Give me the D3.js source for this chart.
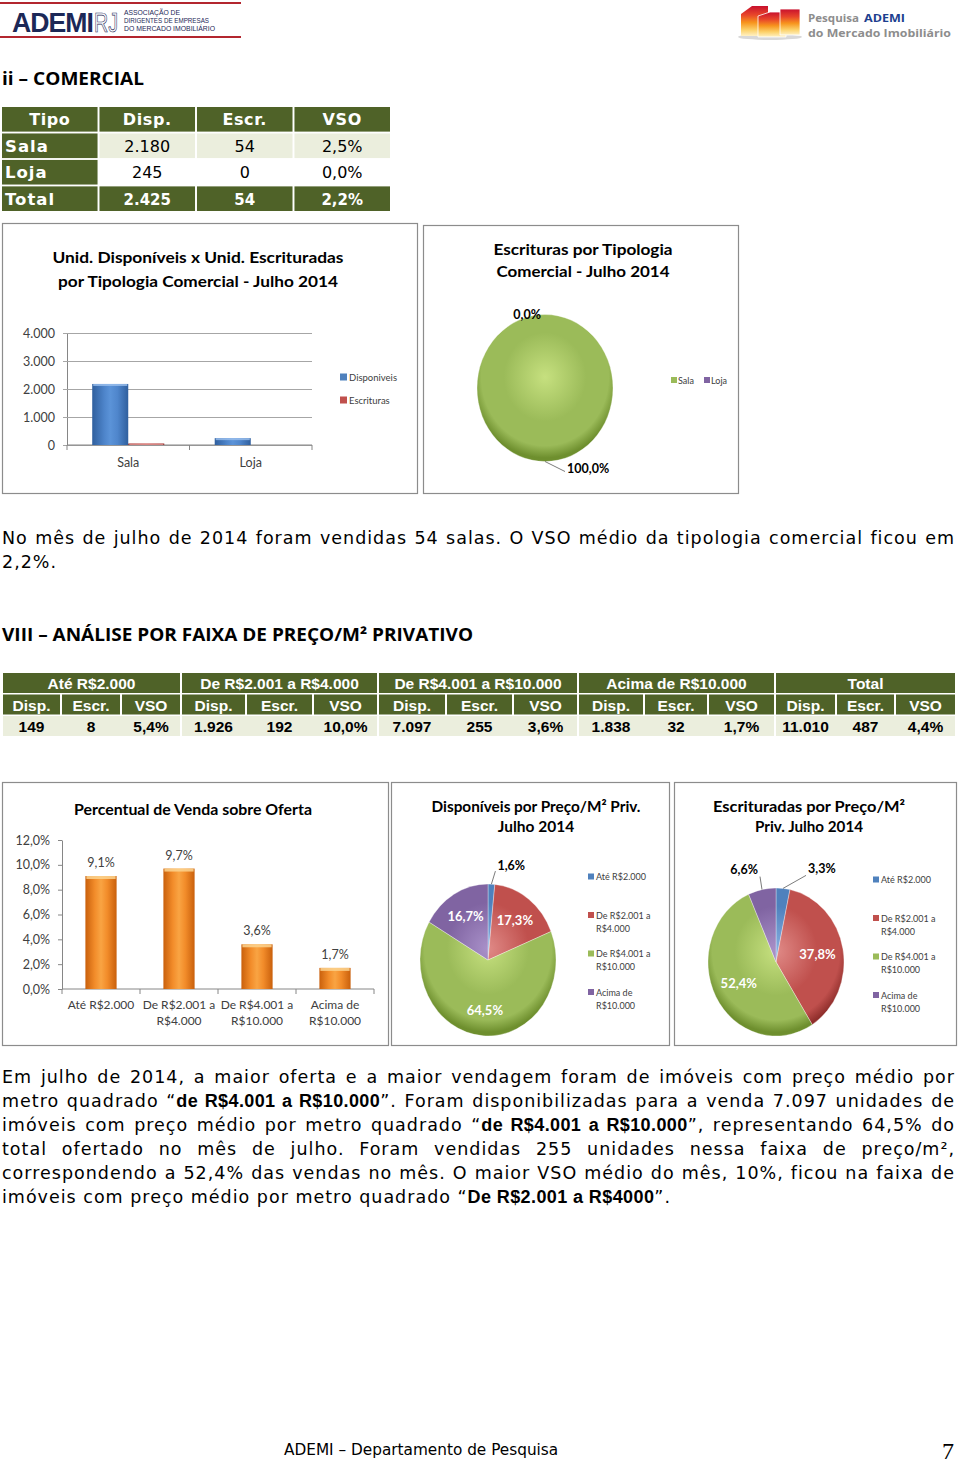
<!DOCTYPE html>
<html><head><meta charset="utf-8">
<script src="https://cdn.jsdelivr.net/npm/d3@7"></script>
<style>body{margin:0;background:#fff}svg{display:block}text{white-space:pre}</style>
</head><body>
<svg id="page" width="960" height="1464"></svg>
<script>
// ---------------- DATA ----------------
const tab1Header = ["Tipo", "Disp.", "Escr.", "VSO"];
const comTipos = ["Sala", "Loja"];
const comDisp = [2180, 245];
const comEscr = [54, 0];
const comVso = [2.5, 0.0];
const comTotal = [2425, 54, 2.2];
const yTicksUnid = [0, 1000, 2000, 3000, 4000];
const escrTipoPct = [100.0, 0.0];

const faixaNomes = ["Até R$2.000", "De R$2.001 a R$4.000", "De R$4.001 a R$10.000", "Acima de R$10.000", "Total"];
const subHeader = ["Disp.", "Escr.", "VSO"];
const faixaDisp = [149, 1926, 7097, 1838, 11010];
const faixaEscr = [8, 192, 255, 32, 487];
const faixaVso = [5.4, 10.0, 3.6, 1.7, 4.4];

const faixaEixo = [["Até R$2.000"], ["De R$2.001 a", "R$4.000"], ["De R$4.001 a", "R$10.000"], ["Acima de", "R$10.000"]];
const pctVenda = [9.1, 9.7, 3.6, 1.7];
const yTicksPct = [0, 2, 4, 6, 8, 10, 12];
const dispPct = [1.6, 17.3, 64.5, 16.7];
const escrPct = [3.3, 37.8, 52.4, 6.6];

// ---------------- STYLE / LAYOUT ----------------
const GOTHIC = "'DejaVu Sans', sans-serif";
const CAL = "Lato, 'Open Sans', sans-serif";
const ARIAL = "'Liberation Sans', Arial, sans-serif";
const OLIVE = "#4f6228";
const LIGHT = "#ebeedd";
const AXIS_TXT = "#404040";
const PIE_COLORS = ["#4f81bd", "#c0504d", "#9bbb59", "#8064a2"];
const PIE_LIGHT = ["#86aee0", "#e08a87", "#c6e07f", "#a991c9"];
const PIE_DARK = ["#2f5b94", "#8f2e2b", "#6e8f2e", "#574078"];

const loc = d3.formatLocale({decimal: ",", thousands: ".", grouping: [3], currency: ["R$", ""]});
const fInt = loc.format(",.0f");
const fPct = v => loc.format(".1f")(v) + "%";

const svg = d3.select("#page");
const defs = svg.append("defs");
svg.append("rect").attr("width", 960).attr("height", 1464).attr("fill", "#fff");

function fit(t, w) {
  const n = t.node().getComputedTextLength();
  if (Math.abs(n - w) > 1.5) t.attr("textLength", w).attr("lengthAdjust", "spacingAndGlyphs");
  return t;
}
function txt(g, x, y, s, o = {}) {
  const t = g.append("text").attr("x", x).attr("y", y).text(s)
    .attr("font-family", o.ff || CAL).attr("font-size", o.fs || 12)
    .attr("font-weight", o.fw || 400).attr("fill", o.fill || "#000")
    .attr("text-anchor", o.anchor || "start");
  if (o.ls) t.attr("letter-spacing", o.ls);
  if (o.w) fit(t, o.w);
  return t;
}
function box(x, y, w, h) {
  svg.append("rect").attr("x", x + 0.5).attr("y", y + 0.5).attr("width", w).attr("height", h)
    .attr("fill", "#fff").attr("stroke", "#8c8c8c").attr("stroke-width", 1.2);
}
function linGrad(id, stops, horiz = true) {
  const g = defs.append("linearGradient").attr("id", id)
    .attr("x1", 0).attr("y1", 0).attr("x2", horiz ? 1 : 0).attr("y2", horiz ? 0 : 1);
  stops.forEach(s => g.append("stop").attr("offset", s[0]).attr("stop-color", s[1]));
}

// ---------------- HEADER ----------------
(function header() {
  const g = svg.append("g");
  g.append("rect").attr("x", 0).attr("y", 2).attr("width", 241).attr("height", 2).attr("fill", "#b3262f");
  g.append("rect").attr("x", 0).attr("y", 36).attr("width", 241).attr("height", 2).attr("fill", "#b3262f");
  txt(g, 12, 32, "ADEMI", {ff: ARIAL, fs: 28, fw: 900, fill: "#1c2857", w: 81, ls: -1});
  txt(g, 94, 32, "RJ", {ff: ARIAL, fs: 28, fw: 400, fill: "#fff", w: 24}).attr("stroke", "#1c2857").attr("stroke-width", 0.7);
  txt(g, 124, 15, "ASSOCIAÇÃO DE", {ff: ARIAL, fs: 8, fill: "#1c2857", w: 56});
  txt(g, 124, 23, "DIRIGENTES DE EMPRESAS", {ff: ARIAL, fs: 8, fill: "#1c2857", w: 85});
  txt(g, 124, 31, "DO MERCADO IMOBILIÁRIO", {ff: ARIAL, fs: 8, fill: "#1c2857", w: 91});

  linGrad("bld", [[0, "#c8102e"], [0.3, "#e8462a"], [0.55, "#f7941d"], [0.8, "#fcd26b"], [1, "#fff1c4"]], false);
  g.append("ellipse").attr("cx", 770).attr("cy", 37).attr("rx", 32).attr("ry", 3).attr("fill", "#d8d8d8");
  g.append("path").attr("d", "M741,14 L752,6 L768,6 L768,36 L741,36 Z").attr("fill", "url(#bld)");
  g.append("path").attr("d", "M758,16 L770,12 L786,12 L786,37 L758,37 Z").attr("fill", "url(#bld)").attr("stroke", "#fff").attr("stroke-width", 0.8);
  g.append("path").attr("d", "M780,9 L800,9 L800,35 L780,35 Z").attr("fill", "url(#bld)").attr("stroke", "#fff").attr("stroke-width", 0.8);
  txt(g, 808, 21.5, "Pesquisa", {ff: "'Open Sans', sans-serif", fs: 11, fw: 700, fill: "#8d8d8d", w: 51});
  txt(g, 864, 21.5, "ADEMI", {ff: "'Open Sans', sans-serif", fs: 11, fw: 700, fill: "#1d3f8f", w: 41});
  txt(g, 808, 36.5, "do Mercado Imobiliário", {ff: "'Open Sans', sans-serif", fs: 11, fw: 700, fill: "#8d8d8d", w: 143});
})();

// ---------------- SECTION: COMERCIAL ----------------
txt(svg, 2, 85, "ii – COMERCIAL", {ff: "'Open Sans', sans-serif", fs: 17.5, fw: 700, w: 142});

(function table1() {
  const g = svg.append("g");
  const cols = d3.scaleBand().domain(d3.range(4)).range([2, 390]).paddingInner(0.02);
  const rows = d3.scaleBand().domain(["h", ...comTipos, "Total"]).range([107, 211]).paddingInner(0.07);
  const cells = [];
  rows.domain().forEach((r) => {
    cols.domain().forEach(c => {
      let s, fill, tc = "#000", bold = false;
      if (r === "h") { s = tab1Header[c]; fill = OLIVE; tc = "#fff"; bold = true; }
      else if (r === "Total") {
        s = c === 0 ? "Total" : (c === 3 ? fPct(comTotal[2]) : fInt(comTotal[c - 1]));
        fill = OLIVE; tc = "#fff"; bold = true;
      } else {
        const i = comTipos.indexOf(r);
        if (c === 0) { s = r; fill = OLIVE; tc = "#fff"; bold = true; }
        else { s = c === 1 ? fInt(comDisp[i]) : c === 2 ? fInt(comEscr[i]) : fPct(comVso[i]); fill = i === 0 ? LIGHT : "#fff"; }
      }
      cells.push({r, c, s, fill, tc, bold});
    });
  });
  g.selectAll("rect").data(cells).join("rect")
    .attr("x", d => cols(d.c)).attr("y", d => rows(d.r))
    .attr("width", cols.bandwidth()).attr("height", rows.bandwidth()).attr("fill", d => d.fill);
  cells.forEach(d => {
    const left = d.c === 0 && d.r !== "h";
    const x = left ? cols(d.c) + 3 : cols(d.c) + cols.bandwidth() / 2;
    const y = rows(d.r) + rows.bandwidth() / 2 + 6;
    let fs = 16, ls = 0;
    if (d.r === "h") { fs = 16; ls = 0.6; }
    else if (left) { fs = 16.5; ls = 1; }
    else if (d.r === "Total") { fs = 15; }
    txt(g, x, y, d.s, {ff: GOTHIC, fs, fw: d.bold ? 700 : 400, fill: d.tc, anchor: left ? "start" : "middle", ls});
  });
})();

// ---------------- CHART 1: bars Unid ----------------
(function chart1() {
  box(2, 223, 415, 270);
  const g = svg.append("g");
  txt(g, 198, 263, "Unid. Disponíveis x Unid. Escrituradas", {fs: 16, fw: 700, anchor: "middle", w: 291});
  txt(g, 198, 287, "por Tipologia Comercial - Julho 2014", {fs: 16, fw: 700, anchor: "middle", w: 280});
  const y = d3.scaleLinear().domain([0, 4000]).range([445, 333]);
  const x = d3.scaleBand().domain(comTipos).range([67, 312]);
  const series = ["Disponiveis", "Escrituras"];
  const xi = d3.scaleBand().domain(series).range([0, x.bandwidth()]).paddingOuter(0.7);
  const ax = g.append("g").attr("transform", "translate(67,0)")
    .call(d3.axisLeft(y).tickValues(yTicksUnid).tickFormat(fInt).tickSize(-245).tickSizeOuter(0).tickPadding(12));
  ax.select(".domain").attr("stroke", "#868686");
  ax.selectAll(".tick line").attr("stroke", "#a6a6a6").attr("x1", -4);
  ax.selectAll(".tick text").attr("font-family", CAL).attr("font-size", 12.5).attr("fill", AXIS_TXT);
  g.append("line").attr("x1", 67).attr("x2", 312).attr("y1", y(0)).attr("y2", y(0)).attr("stroke", "#868686");
  const bounds = comTipos.map(d => x(d)).concat([x.range()[1]]);
  g.selectAll(".bt").data(bounds).join("line").attr("x1", d => d).attr("x2", d => d)
    .attr("y1", y(0)).attr("y2", y(0) + 5).attr("stroke", "#868686");
  comTipos.forEach(d => txt(g, x(d) + x.bandwidth() / 2, 467, d, {fs: 12.5, fill: AXIS_TXT, anchor: "middle"}));

  linGrad("gBlue", [[0, "#2f5f9e"], [0.35, "#4f86cc"], [0.5, "#5b93d8"], [0.7, "#4f86cc"], [1, "#2f5f9e"]]);
  linGrad("gRed", [[0, "#8f2e2b"], [0.5, "#c9524e"], [1, "#8f2e2b"]]);
  const vals = [comDisp, comEscr];
  const fills = ["url(#gBlue)", "url(#gRed)"];
  series.forEach((s, si) => {
    g.selectAll(".b" + si).data(comTipos).join("rect")
      .attr("x", d => x(d) + xi(s)).attr("width", xi.bandwidth())
      .attr("y", (d, i) => y(vals[si][i])).attr("height", (d, i) => y(0) - y(vals[si][i]))
      .attr("fill", fills[si]);
    g.selectAll(".bh" + si).data(comTipos).join("rect")
      .attr("x", d => x(d) + xi(s) + 1).attr("width", xi.bandwidth() - 2)
      .attr("y", (d, i) => y(vals[si][i])).attr("height", (d, i) => Math.min(2, y(0) - y(vals[si][i])))
      .attr("fill", si === 0 ? "#9cc0ee" : "#e09592").attr("opacity", 0.8);
  });
  const ly = d3.scalePoint().domain(series).range([377, 400]);
  series.forEach((s, i) => {
    g.append("rect").attr("x", 340).attr("y", ly(s) - 3.5).attr("width", 7).attr("height", 7).attr("fill", PIE_COLORS[i]);
    txt(g, 349, ly(s) + 3.5, s, {fs: 9.5, fill: AXIS_TXT});
  });
})();

// ---------------- PIE helper ----------------
function drawPie(o) {
  const k = o.ry / o.rx;
  const arcs = d3.pie().sort(null).value(d => d)(o.values);
  const arc = d3.arc().innerRadius(0).outerRadius(o.rx);
  o.colorIdx.forEach((ci, i) => {
    const rg = defs.append("radialGradient").attr("id", o.id + i).attr("gradientUnits", "userSpaceOnUse")
      .attr("cx", 0).attr("cy", -o.rx * 0.15).attr("r", o.rx * 1.1);
    rg.append("stop").attr("offset", 0).attr("stop-color", PIE_LIGHT[ci]);
    rg.append("stop").attr("offset", 0.55).attr("stop-color", PIE_COLORS[ci]);
    rg.append("stop").attr("offset", 0.85).attr("stop-color", PIE_COLORS[ci]);
    rg.append("stop").attr("offset", 1).attr("stop-color", PIE_DARK[ci]);
  });
  const g = svg.append("g");
  g.append("g").attr("transform", `translate(${o.cx},${o.cy}) scale(1,${k})`)
    .selectAll("path").data(arcs.filter(d => d.value > 0)).join("path").attr("d", arc)
    .attr("fill", d => `url(#${o.id}${d.index})`).attr("stroke", "rgba(255,255,255,0.45)").attr("stroke-width", 0.7);
  arcs.forEach(d => {
    const a = (d.startAngle + d.endAngle) / 2;
    const sx = Math.sin(a), sy = -Math.cos(a);
    const lab = fPct(d.value);
    if (d.value >= o.insideMin) {
      txt(g, o.cx + sx * o.rx * o.f, o.cy + sy * o.ry * o.f, lab, {fs: 13, fw: 700, fill: "#fff", anchor: "middle"}).attr("dy", "0.36em");
      return;
    }
    const ex = o.cx + sx * o.rx, ey = o.cy + sy * o.ry;
    if (d.value === 0) {
      txt(g, ex - 4, ey, lab, {fs: 12.5, fw: 700, anchor: "end"}).attr("dy", "0.36em");
      return;
    }
    const dx = sx > -1e-6 ? 1 : -1, dy = sy > 0 ? 1 : -1;
    const Lx = ex + dx * (dx > 0 ? o.lxR : o.lxL), Ly = ey + dy * o.ly;
    g.append("path").attr("d", `M${ex},${ey}L${Lx},${Ly}`).attr("stroke", "#595959").attr("stroke-width", 0.8).attr("fill", "none");
    txt(g, Lx + dx * 2, Ly + dy * o.ty, lab, {fs: 12.5, fw: 700, anchor: dx > 0 ? "start" : "end"}).attr("dy", "0.36em");
  });
}
function legendV(x, y0, step, items, colorIdx) {
  const g = svg.append("g");
  items.forEach((lines, i) => {
    const y = y0 + i * step;
    g.append("rect").attr("x", x).attr("y", y - 6.5).attr("width", 6).attr("height", 6).attr("fill", PIE_COLORS[colorIdx[i]]);
    lines.forEach((l, j) => txt(g, x + 8, y + j * 13, l, {fs: 9, fill: AXIS_TXT}));
  });
}

// ---------------- CHART 2: pie tipologia ----------------
(function chart2() {
  box(423, 225, 315, 268);
  txt(svg, 583, 255, "Escrituras por Tipologia", {fs: 16, fw: 700, anchor: "middle", w: 179});
  txt(svg, 583, 277, "Comercial - Julho 2014", {fs: 16, fw: 700, anchor: "middle", w: 173});
  drawPie({id: "p2_", cx: 545, cy: 388, rx: 68, ry: 73.5, values: escrTipoPct, colorIdx: [2, 3],
    insideMin: Infinity, f: 0.6, lxR: 20, lxL: 20, ly: 10, ty: -3});
  const g = svg.append("g");
  const lx = d3.scalePoint().domain(comTipos).range([671, 704]);
  comTipos.forEach((t, i) => {
    g.append("rect").attr("x", lx(t)).attr("y", 377).attr("width", 6).attr("height", 6).attr("fill", PIE_COLORS[[2, 3][i]]);
    txt(g, lx(t) + 7, 383.5, t, {fs: 9, fill: AXIS_TXT});
  });
})();

// ---------------- PARAGRAPH helper ----------------
function paraLine(y, segs, justify, fs = 17.5) {
  const t = svg.append("text").attr("x", 2).attr("y", y).attr("font-family", GOTHIC).attr("font-size", fs)
    .attr("letter-spacing", 1.0).attr("fill", "#000");
  segs.forEach(s => {
    const ts = t.append("tspan").text(s[0]);
    if (s[1]) ts.attr("font-family", ARIAL).attr("font-weight", 700).attr("font-size", fs + 0.5).attr("letter-spacing", 0.4);
  });
  if (justify) {
    const full = segs.map(s => s[0]).join("");
    const n = (full.match(/ /g) || []).length;
    const w = t.node().getComputedTextLength();
    t.attr("word-spacing", Math.max(0, (953 - w) / n));
  }
}
paraLine(544, [["No mês de julho de 2014 foram vendidas 54 salas. O VSO médio da tipologia comercial ficou em"]], true);
paraLine(568, [["2,2%."]], false);

// ---------------- SECTION VIII ----------------
txt(svg, 2, 641, "VIII – ANÁLISE POR FAIXA DE PREÇO/M² PRIVATIVO", {ff: "'Open Sans', sans-serif", fs: 17.5, fw: 700, w: 471});

(function table2() {
  const g = svg.append("g");
  const colW = [57, 58, 58, 63, 65, 63, 66, 65, 63, 64, 62, 65, 59, 57, 59];
  const gap = 2;
  const colX = [];
  let cx = 3;
  colW.forEach((w) => { colX.push(cx); cx += w + gap; });
  const rowY = [673, 694.5, 716], rowH = 20;
  faixaNomes.forEach((f, gi) => {
    const x0 = colX[gi * 3], x1 = colX[gi * 3 + 2] + colW[gi * 3 + 2];
    g.append("rect").attr("x", x0).attr("y", rowY[0]).attr("width", x1 - x0).attr("height", rowH).attr("fill", OLIVE);
    txt(g, (x0 + x1) / 2, rowY[0] + 16, f, {ff: ARIAL, fs: 15.5, fw: 700, fill: "#fff", anchor: "middle"});
    const vals = [fInt(faixaDisp[gi]), fInt(faixaEscr[gi]), fPct(faixaVso[gi])];
    subHeader.forEach((s, si) => {
      const c = gi * 3 + si;
      g.append("rect").attr("x", colX[c]).attr("y", rowY[1]).attr("width", colW[c]).attr("height", rowH).attr("fill", OLIVE);
      txt(g, colX[c] + colW[c] / 2, rowY[1] + 16, s, {ff: ARIAL, fs: 15.5, fw: 700, fill: "#fff", anchor: "middle"});
      g.append("rect").attr("x", colX[c]).attr("y", rowY[2]).attr("width", colW[c] + (si < 2 ? gap : 0)).attr("height", rowH).attr("fill", LIGHT);
      txt(g, colX[c] + colW[c] / 2, rowY[2] + 16, vals[si], {ff: ARIAL, fs: 15.5, fw: 700, fill: "#000", anchor: "middle"});
    });
  });
})();

// ---------------- CHART 3: Percentual de venda ----------------
(function chart3() {
  box(2, 782, 386, 263);
  const g = svg.append("g");
  txt(g, 193, 815, "Percentual de Venda sobre Oferta", {fs: 16, fw: 700, anchor: "middle", w: 238});
  const y = d3.scaleLinear().domain([0, 12]).range([989, 840]);
  const x = d3.scaleBand().domain(faixaEixo.map(d => d.join(" "))).range([62, 374]);
  const ax = g.append("g").attr("transform", "translate(62,0)")
    .call(d3.axisLeft(y).tickValues(yTicksPct).tickFormat(fPct).tickSize(4).tickSizeOuter(0).tickPadding(8));
  ax.select(".domain").attr("stroke", "#868686");
  ax.selectAll(".tick line").attr("stroke", "#868686");
  ax.selectAll(".tick text").attr("font-family", CAL).attr("font-size", 12.5).attr("fill", AXIS_TXT);
  g.append("line").attr("x1", 62).attr("x2", 374).attr("y1", y(0)).attr("y2", y(0)).attr("stroke", "#868686");
  const bounds = x.domain().map(d => x(d)).concat([x.range()[1]]);
  g.selectAll(".bt").data(bounds).join("line").attr("x1", d => d).attr("x2", d => d)
    .attr("y1", y(0)).attr("y2", y(0) + 5).attr("stroke", "#868686");
  linGrad("gOr", [[0, "#c9600c"], [0.3, "#f28c2a"], [0.5, "#f9a443"], [0.7, "#f28c2a"], [1, "#c9600c"]]);
  const bw = x.bandwidth() * 0.4;
  const keys = x.domain();
  g.selectAll(".bar").data(pctVenda).join("rect")
    .attr("x", (d, i) => x(keys[i]) + (x.bandwidth() - bw) / 2).attr("width", bw)
    .attr("y", d => y(d)).attr("height", d => y(0) - y(d)).attr("fill", "url(#gOr)");
  g.selectAll(".cap").data(pctVenda).join("rect")
    .attr("x", (d, i) => x(keys[i]) + (x.bandwidth() - bw) / 2 + 1).attr("width", bw - 2)
    .attr("y", d => y(d)).attr("height", 3).attr("fill", "#fcd48f").attr("opacity", 0.85);
  g.selectAll(".vl").data(pctVenda).join("text")
    .attr("x", (d, i) => x(keys[i]) + x.bandwidth() / 2).attr("y", d => y(d) - 9)
    .attr("text-anchor", "middle").attr("font-family", CAL).attr("font-size", 12.5).attr("fill", AXIS_TXT)
    .text(d => fPct(d));
  faixaEixo.forEach((lines, i) => lines.forEach((l, j) =>
    txt(g, x(keys[i]) + x.bandwidth() / 2, 1009 + j * 16, l, {fs: 12, fill: AXIS_TXT, anchor: "middle"})));
})();

// ---------------- CHART 4: Disponíveis pie ----------------
(function chart4() {
  box(391, 782, 278, 263);
  txt(svg, 536, 812, "Disponíveis por Preço/M² Priv.", {fs: 15.5, fw: 700, anchor: "middle", w: 209});
  txt(svg, 536, 832, "Julho 2014", {fs: 15.5, fw: 700, anchor: "middle", w: 75});
  drawPie({id: "p4_", cx: 488, cy: 960, rx: 68, ry: 76, values: dispPct, colorIdx: [0, 1, 2, 3],
    insideMin: 10, f: 0.66, lxR: 4, lxL: 4, ly: 13, ty: 6});
  legendV(588, 880, 38.5, faixaEixo, [0, 1, 2, 3]);
})();

// ---------------- CHART 5: Escrituradas pie ----------------
(function chart5() {
  box(674, 782, 282, 263);
  txt(svg, 809, 812, "Escrituradas por Preço/M²", {fs: 15.5, fw: 700, anchor: "middle", w: 192});
  txt(svg, 809, 832, "Priv. Julho 2014", {fs: 15.5, fw: 700, anchor: "middle", w: 108});
  drawPie({id: "p5_", cx: 776, cy: 962, rx: 68, ry: 74, values: escrPct, colorIdx: [0, 1, 2, 3],
    insideMin: 10, f: 0.62, lxR: 23, lxL: 2, ly: 13, ty: 7});
  legendV(873, 883, 38.5, faixaEixo, [0, 1, 2, 3]);
})();

// ---------------- PARAGRAPH 2 ----------------
paraLine(1083, [["Em julho de 2014, a maior oferta e a maior vendagem foram de imóveis com preço médio por"]], true);
paraLine(1107, [["metro quadrado “"], ["de R$4.001 a R$10.000", 1], ["”. Foram disponibilizadas para a venda 7.097 unidades de"]], true);
paraLine(1131, [["imóveis com preço médio por metro quadrado “"], ["de R$4.001 a R$10.000", 1], ["”, representando 64,5% do"]], true);
paraLine(1155, [["total ofertado no mês de julho. Foram vendidas 255 unidades nessa faixa de preço/m²,"]], true);
paraLine(1179, [["correspondendo a 52,4% das vendas no mês. O maior VSO médio do mês, 10%, ficou na faixa de"]], true);
paraLine(1203, [["imóveis com preço médio por metro quadrado “"], ["De R$2.001 a R$4000", 1], ["”."]], false);

// ---------------- FOOTER ----------------
txt(svg, 284, 1455, "ADEMI – Departamento de Pesquisa", {ff: GOTHIC, fs: 15.3});
txt(svg, 954, 1459, "7", {ff: "'Liberation Serif', serif", fs: 24, anchor: "end"});
</script>
</body></html>
